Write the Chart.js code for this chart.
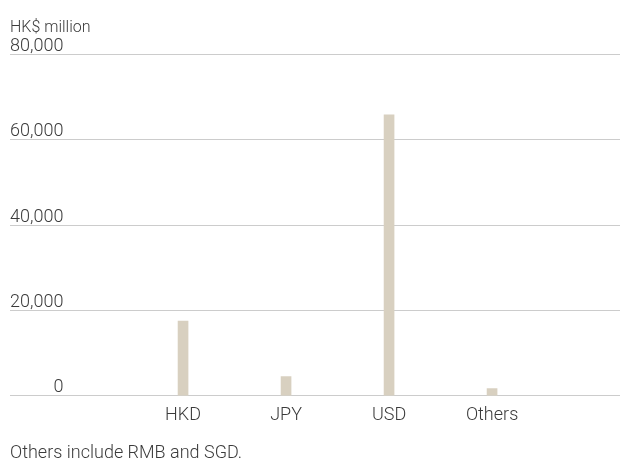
<!DOCTYPE html>
<html>
<head>
<meta charset="utf-8">
<script src="https://cdn.jsdelivr.net/npm/chart.js@4"></script>
<style>
    html, body { margin: 0; padding: 0; background: #fff; }
    #wrap { width: 620px; height: 476px; }
</style>
</head>
<body>
<div id="wrap"><canvas id="chart" width="620" height="476"></canvas></div>
<script>
// ===== Data =====
const currencies = ["HKD", "JPY", "USD", "Others"];
const amounts = [17500, 4500, 65800, 1700];
const yTicks = [0, 20000, 40000, 60000, 80000];
const unitLabel = "HK$ million";
const footnote = "Others include RMB and SGD.";

const textColor = "#3b3b3b";
const fontFamily = "Roboto, Lato, 'Liberation Sans', sans-serif";

const ctx = document.getElementById("chart").getContext("2d");

const chart = new Chart(ctx, {
    type: "bar",
    data: {
        datasets: [{
            data: amounts.map((v, i) => ({ x: i + 1, y: v })),
            backgroundColor: "#d8d0c0",
            barThickness: 10
        }]
    },
    options: {
        responsive: false,
        animation: false,
        layout: { padding: { left: 10, right: 0, top: 0, bottom: 12 } },
        plugins: {
            legend: { display: false },
            tooltip: { enabled: false },
            title: {
                display: true,
                text: unitLabel,
                align: "start",
                color: textColor,
                font: { family: fontFamily, size: 16, weight: 300 },
                padding: { top: 18, bottom: 17 }
            },
            subtitle: {
                display: true,
                text: footnote,
                position: "bottom",
                align: "start",
                color: textColor,
                font: { family: fontFamily, size: 18, weight: 300 },
                padding: { top: 7, bottom: 0 }
            }
        },
        scales: {
            x: {
                type: "linear",
                min: -0.68,
                max: 5.242,
                offset: false,
                bounds: "data",
                grid: { display: false, drawTicks: false },
                border: { display: false },
                afterBuildTicks: scale => {
                    scale.ticks = currencies.map((c, i) => ({ value: i + 1 }));
                },
                ticks: {
                    padding: 9,
                    color: textColor,
                    font: { family: fontFamily, size: 18, weight: 300 },
                    callback: v => currencies[v - 1] ?? ""
                }
            },
            y: {
                min: 0,
                max: 80000,
                afterBuildTicks: scale => {
                    scale.ticks = yTicks.map(v => ({ value: v }));
                },
                grid: { color: "#cccccc", lineWidth: 1, drawTicks: false },
                border: { display: false },
                ticks: {
                    mirror: true,
                    crossAlign: "far",
                    padding: 0,
                    labelOffset: -8,
                    color: textColor,
                    font: { family: fontFamily, size: 18, weight: 300 },
                    callback: v => v.toLocaleString("en-US")
                }
            }
        }
    }
});
</script>
</body>
</html>
